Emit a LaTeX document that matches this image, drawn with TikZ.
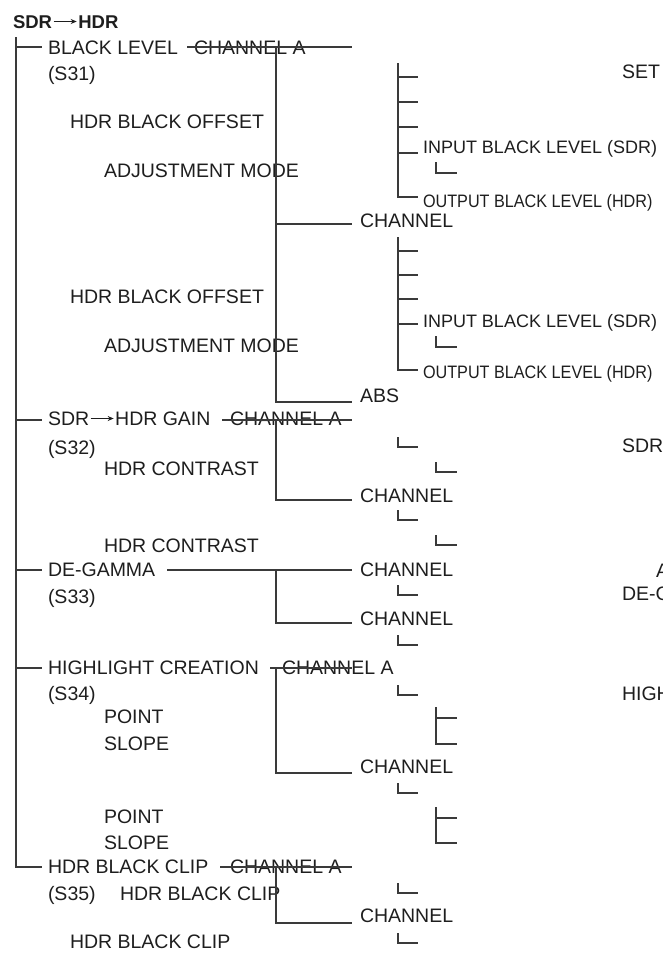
\documentclass[tikz,border=0pt]{standalone}
\usepackage{fontspec}
\usetikzlibrary{arrows.meta}
\setmainfont{Liberation Sans}
\definecolor{ink}{HTML}{1E1E1E}
\definecolor{wire}{HTML}{3A3A3A}
\tikzset{
  lbl/.style={anchor=base west,inner sep=0pt,outer sep=0pt,text=ink,font=\fontsize{19.5}{20}\selectfont},
  sml/.style={anchor=base west,inner sep=0pt,outer sep=0pt,text=ink,font=\fontsize{18}{19}\selectfont},
  ttl/.style={anchor=base west,inner sep=0pt,outer sep=0pt,text=ink,font=\fontsize{18.5}{19}\selectfont\bfseries},
  conn/.style={draw=wire,line width=1.6pt},
}
\newcommand{\cond}[1]{\scalebox{0.9}[1]{#1}}
\newcommand{\longarr}[1]{\hspace{1pt}\tikz[baseline={(0pt,-6.5pt)}]{\draw[ink,line width=#1,-{Stealth[length=6pt,width=5pt]}] (0pt,0pt) -- (23pt,0pt);}\hspace{1pt}}
\begin{document}
\begin{tikzpicture}[x=1pt,y=-1pt]
\useasboundingbox (0,0) rectangle (662,956);
\clip (0,0) rectangle (662,956);
\fill[white] (0,0) rectangle (662,956);

% ---------- texts ----------
\node[ttl] (title) at (13,28) {SDR\longarr{1.3pt}HDR};

\node[lbl] (bl)   at (48,54)  {BLACK LEVEL};
\node[lbl] (chA1) at (194,54) {CHANNEL A};
\node[lbl] (s31)  at (48,80)  {(S31)};
\node[lbl] (hbo1) at (70,128) {HDR BLACK OFFSET};
\node[lbl] (adj1) at (104,177) {ADJUSTMENT MODE};
\node[lbl] (ch1)  at (360,227) {CHANNEL};
\node[lbl] (hbo2) at (70,303) {HDR BLACK OFFSET};
\node[lbl] (adj2) at (104,352) {ADJUSTMENT MODE};
\node[lbl] (abs)  at (360,402) {ABS};
\node[lbl] (set)  at (622,78) {SET};
\node[sml] (in1)  at (423,153) {INPUT BLACK LEVEL (SDR)};
\node[sml] (out1) at (423,207) {\cond{OUTPUT BLACK LEVEL (HDR)}};
\node[sml] (in2)  at (423,327) {INPUT BLACK LEVEL (SDR)};
\node[sml] (out2) at (423,378) {\cond{OUTPUT BLACK LEVEL (HDR)}};

\node[lbl] (gain) at (48,425) {SDR\longarr{1pt}HDR GAIN};
\node[lbl] (chA2) at (230,425) {CHANNEL A};
\node[lbl] (s32)  at (48,454) {(S32)};
\node[lbl] (hc1)  at (104,475) {HDR CONTRAST};
\node[lbl] (ch2)  at (360,502) {CHANNEL};
\node[lbl] (hc2)  at (104,552) {HDR CONTRAST};
\node[lbl] (sdrR) at (622,452) {SDR};

\node[lbl] (dg)   at (48,576) {DE-GAMMA};
\node[lbl] (ch3)  at (360,576) {CHANNEL};
\node[lbl] (s33)  at (48,603) {(S33)};
\node[lbl] (ch4)  at (360,625) {CHANNEL};
\node[lbl] (aR)   at (656,577) {A};
\node[lbl] (dgR)  at (622,600) {DE-G};

\node[lbl] (hl)   at (48,674) {HIGHLIGHT CREATION};
\node[lbl] (chA3) at (282,674) {CHANNEL A};
\node[lbl] (s34)  at (48,700) {(S34)};
\node[lbl] (pt1)  at (104,723) {POINT};
\node[lbl] (sl1)  at (104,750) {SLOPE};
\node[lbl] (ch5)  at (360,773) {CHANNEL};
\node[lbl] (pt2)  at (104,823) {POINT};
\node[lbl] (sl2)  at (104,849) {SLOPE};
\node[lbl] (hiR)  at (622,700) {HIGH};

\node[lbl] (bc)   at (48,873) {HDR BLACK CLIP};
\node[lbl] (chA4) at (230,873) {CHANNEL A};
\node[lbl] (s35)  at (48,900) {(S35)};
\node[lbl] (bc2)  at (120,900) {HDR BLACK CLIP};
\node[lbl] (ch6)  at (360,922) {CHANNEL};
\node[lbl] (bc3)  at (70,948) {HDR BLACK CLIP};

% ---------- trunk ----------
\coordinate (t0) at (16,37);
\coordinate (t1) at (16,47);
\coordinate (t2) at (16,420);
\coordinate (t3) at (16,570);
\coordinate (t4) at (16,668);
\coordinate (t5) at (16,867);
\draw[conn] (t0) -- (t5) -- ++(26,0);
\draw[conn] (t1) -- ++(26,0);
\draw[conn] (t2) -- ++(26,0);
\draw[conn] (t3) -- ++(26,0);
\draw[conn] (t4) -- ++(26,0);

% ---------- second level ----------
\coordinate (b1) at (276,47);
\draw[conn] (187,47) -- (352,47);
\draw[conn] (b1) -- (276,402) -- (352,402);
\draw[conn] (276,224) -- (352,224);
\draw[conn] (222,420) -- (352,420);
\draw[conn] (276,420) |- (352,500);
\draw[conn] (167,570) -- (352,570);
\draw[conn] (276,570) |- (352,623);
\draw[conn] (270,668) -- (352,668);
\draw[conn] (276,668) |- (352,773);
\draw[conn] (220,867) -- (352,867);
\draw[conn] (276,867) |- (352,923);

% ---------- right sub-trees ----------
\draw[conn] (398,63) |- (418,197);
\foreach \yy in {77,102,127,153} \draw[conn] (398,\yy) -- ++(20,0);
\draw[conn] (436,162) |- (457,173);

\draw[conn] (398,237) |- (418,370);
\foreach \yy in {251,275,299,324} \draw[conn] (398,\yy) -- ++(20,0);
\draw[conn] (436,336) |- (457,347);

\foreach \yy in {437,510,585,635,685,783,883,933}
  \draw[conn] (398,\yy) |- ++(20,10);
\foreach \yy in {462,535}
  \draw[conn] (436,\yy) |- ++(21,10);
\draw[conn] (436,707) |- (457,744);
\draw[conn] (436,718) -- ++(21,0);
\draw[conn] (436,807) |- (457,843);
\draw[conn] (436,818) -- ++(21,0);
\end{tikzpicture}
\end{document}
